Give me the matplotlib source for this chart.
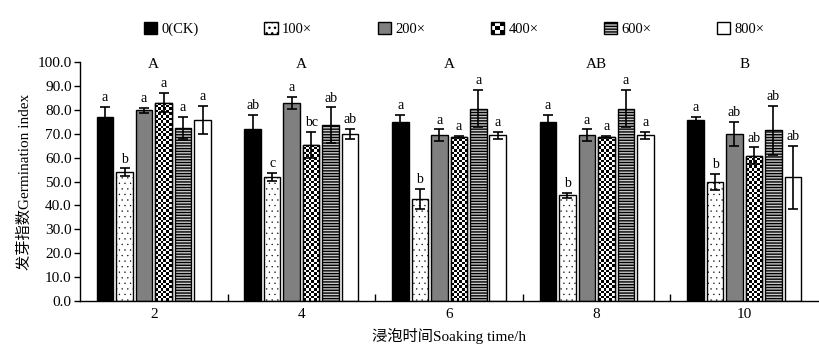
import numpy as np
import matplotlib
matplotlib.use("Agg")
import matplotlib.pyplot as plt
from matplotlib.patches import Rectangle
from matplotlib.legend_handler import HandlerBase

plt.rcParams['font.family'] = ['Liberation Serif', 'Noto Sans CJK SC', 'DejaVu Sans']
plt.rcParams['hatch.linewidth'] = 1.0

groups = ['2', '4', '6', '8', '10']
series = ['0(CK)', '100×', '200×', '400×', '600×', '800×']
values = {
    '0(CK)': [77.1, 72.0, 75.0, 75.0, 75.7],
    '100×':  [54.0, 51.9, 42.8, 44.2, 49.8],
    '200×':  [79.8, 83.0, 69.3, 69.3, 70.0],
    '400×':  [83.0, 65.3, 68.6, 68.6, 60.8],
    '600×':  [72.4, 73.6, 80.5, 80.5, 71.4],
    '800×':  [75.7, 69.9, 69.3, 69.3, 51.8],
}
errors = {
    '0(CK)': [4.0, 5.7, 2.7, 2.7, 1.2],
    '100×':  [1.5, 1.8, 4.2, 1.2, 3.5],
    '200×':  [1.0, 2.5, 2.5, 2.5, 5.0],
    '400×':  [4.0, 5.3, 0.5, 0.5, 3.5],
    '600×':  [4.7, 7.4, 7.7, 7.7, 10.2],
    '800×':  [6.0, 2.0, 1.5, 1.5, 13.2],
}
letters = {
    '0(CK)': ['a', 'ab', 'a', 'a', 'a'],
    '100×':  ['b', 'c', 'b', 'b', 'b'],
    '200×':  ['a', 'a', 'a', 'a', 'ab'],
    '400×':  ['a', 'bc', 'a', 'a', 'ab'],
    '600×':  ['a', 'ab', 'a', 'a', 'ab'],
    '800×':  ['a', 'ab', 'a', 'a', 'ab'],
}
group_letters = ['A', 'A', 'A', 'AB', 'B']

styles = {
    '0(CK)': dict(facecolor='black', hatch=None, hlw=1.0),
    '100×':  dict(facecolor='white', hatch='...', hlw=0.2),
    '200×':  dict(facecolor='#808080', hatch=None, hlw=1.0),
    '400×':  dict(facecolor='white', hatch=None, hlw=1.0),
    '600×':  dict(facecolor='#c8c8c8', hatch='------', hlw=1.0),
    '800×':  dict(facecolor='white', hatch=None, hlw=1.0),
}

fig = plt.figure(figsize=(8.2, 3.58), dpi=100)
ax = fig.add_axes([0.0976, 0.159, 0.9000, 0.668])

x = np.arange(len(groups))
step = 0.132
width = 0.112
ax.set_xlim(-0.5, len(groups) - 0.5)
ax.set_ylim(0, 100)

checker_cell_px = 2.6
px_per_x = 0.9000 * 820 / len(groups)
px_per_y = 0.668 * 358 / 100.0

for i, s in enumerate(series):
    pos = x + (i - 2.5) * step
    st = styles[s]
    with plt.rc_context({'hatch.linewidth': st['hlw']}):
        bars = ax.bar(pos, values[s], width, facecolor=st['facecolor'], edgecolor='black',
                      linewidth=1.0, hatch=st['hatch'], zorder=2)
    for b in bars:
        if hasattr(b, 'set_hatch_linewidth'):
            b.set_hatch_linewidth(st['hlw'])
    if s == '400×':
        for b in bars:
            x0, w = b.get_x(), b.get_width()
            h = b.get_height()
            nc = max(1, int(round(w * px_per_x / checker_cell_px)))
            nr = max(1, int(round(h * px_per_y / checker_cell_px)))
            img = (np.indices((nr, nc)).sum(axis=0) % 2).astype(float)
            im = ax.imshow(img, cmap='gray', extent=(x0, x0 + w, 0, h), origin='lower',
                           interpolation='nearest', aspect='auto', zorder=2.5)
            im.set_clip_path(b)
            ax.add_patch(Rectangle((x0, 0), w, h, facecolor='none', edgecolor='black',
                                   linewidth=1.0, zorder=2.6))
    ax.errorbar(pos, values[s], yerr=errors[s], fmt='none', ecolor='black',
                elinewidth=1.2, capsize=3.6, capthick=1.2, zorder=3)
    for j in range(len(groups)):
        ax.annotate(letters[s][j], (pos[j], values[s][j] + errors[s][j]),
                    xytext=(0, 2), textcoords='offset points', ha='center', va='bottom',
                    fontsize=10)

for j, g in enumerate(group_letters):
    ax.text(x[j], 98.8, g, ha='center', va='center', fontsize=11)

ax.spines['top'].set_visible(False)
ax.spines['right'].set_visible(False)
ax.spines['left'].set_linewidth(1.0)
ax.spines['bottom'].set_linewidth(1.0)

ax.set_yticks(np.arange(0, 101, 10))
ax.set_yticklabels([f'{v:.1f}' for v in np.arange(0, 101, 10)], fontsize=11)
ax.tick_params(axis='y', direction='out', length=4, width=1.0, pad=2)

ax.set_xticks(np.arange(0.5, len(groups) - 0.5, 1.0))
ax.set_xticklabels([])
ax.tick_params(axis='x', which='major', direction='in', length=5, width=1.0)
ax.set_xticks(x, minor=True)
ax.set_xticklabels(groups, minor=True, fontsize=11)
ax.tick_params(axis='x', which='minor', length=0, pad=5)

ax.set_xlabel('浸泡时间Soaking time/h', fontsize=11, labelpad=5)
ax.set_ylabel('发芽指数Germination index', fontsize=11, labelpad=4)


class CheckerHandler(HandlerBase):
    def create_artists(self, legend, orig_handle, xdescent, ydescent, width, height,
                       fontsize, trans):
        arts = []
        n = 3
        cw = width / n
        ch = height / n
        for r in range(n):
            for c in range(n):
                col = 'black' if (r + c) % 2 == 0 else 'white'
                arts.append(Rectangle((-xdescent + c * cw, -ydescent + r * ch), cw, ch,
                                      facecolor=col, edgecolor='none', transform=trans))
        arts.append(Rectangle((-xdescent, -ydescent), width, height, facecolor='none',
                              edgecolor='black', linewidth=1.0, transform=trans))
        return arts


handles = []
for s in series:
    st = styles[s]
    with plt.rc_context({'hatch.linewidth': st['hlw']}):
        hp = Rectangle((0, 0), 1, 1, facecolor=st['facecolor'], edgecolor='black',
                       linewidth=1.0, hatch=st['hatch'])
    if hasattr(hp, 'set_hatch_linewidth'):
        hp.set_hatch_linewidth(st['hlw'])
    handles.append(hp)
hmap = {handles[3]: CheckerHandler()}
fig.legend(handles, series, loc='center', bbox_to_anchor=(0.554, 0.92), ncol=6,
           frameon=False, fontsize=10.5, handlelength=0.9, handleheight=0.9,
           handletextpad=0.3, columnspacing=4.5, handler_map=hmap)

fig.savefig('out.png', dpi=100)
